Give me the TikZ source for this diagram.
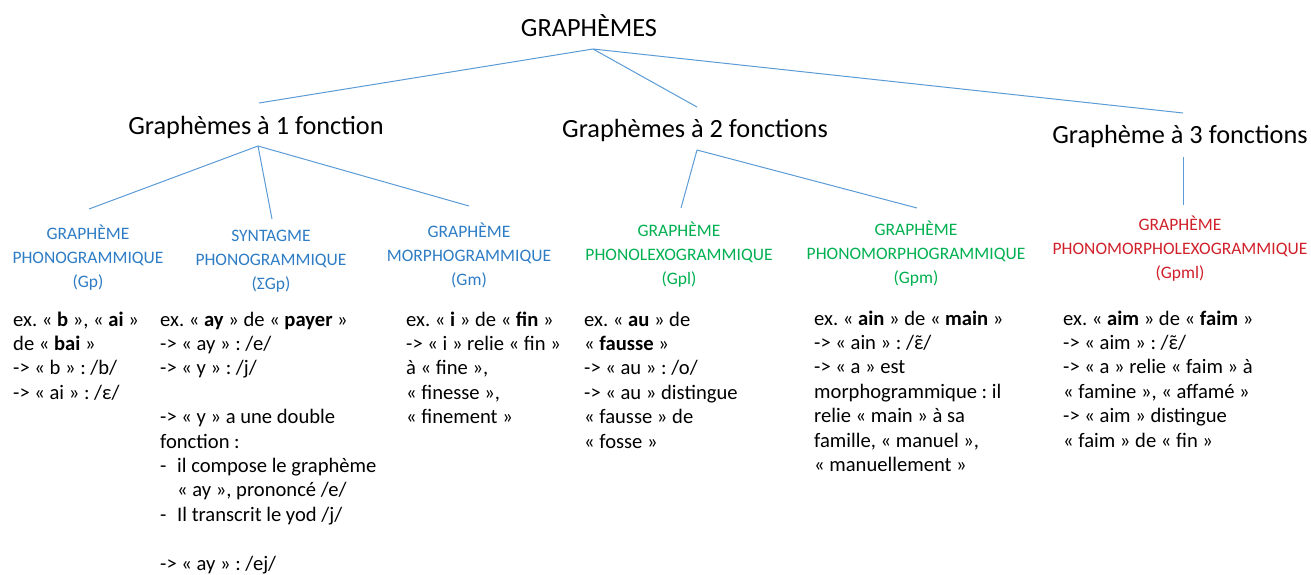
\documentclass[tikz,border=0pt]{standalone}
\usepackage{fontspec}
\setmainfont{Carlito}
\definecolor{conn}{HTML}{5B9BD5}
\definecolor{lblue}{HTML}{2E7CC4}
\definecolor{lgreen}{HTML}{00B050}
\definecolor{lred}{HTML}{D0202A}
\newcommand{\epsnas}{\accent"02DC ε}
\begin{document}
\frenchspacing
\begin{tikzpicture}[x=1pt,y=-1pt,
  title/.style={font=\fontsize{26.3}{30}\selectfont, inner sep=0pt, anchor=base},
  lab/.style={font=\fontsize{17.5}{24}\selectfont, inner sep=0pt, anchor=base},
  body/.style={font=\fontsize{20.6}{24.4}\selectfont, inner sep=0pt, anchor=base west},
  conline/.style={draw=conn, line width=1pt}]
\useasboundingbox (0,0) rectangle (1311,574);

% titles
\node[title] (root) at (589,36) {GRAPHÈMES};
\node[title] (g1) at (256,134) {Graphèmes à 1 fonction};
\node[title] (g2) at (695,137) {Graphèmes à 2 fonctions};
\node[title] (g3) at (1180,143) {Graphème à 3 fonctions};

% category labels
\node[lab, text=lblue] (c1) at (88,239) {\parbox[t]{200pt}{\centering GRAPHÈME\\PHONOGRAMMIQUE\\(Gp)}};
\node[lab, text=lblue] (c2) at (271,241) {\parbox[t]{200pt}{\centering SYNTAGME\\PHONOGRAMMIQUE\\(ΣGp)}};
\node[lab, text=lblue] (c3) at (469,237) {\parbox[t]{200pt}{\centering GRAPHÈME\\MORPHOGRAMMIQUE\\(Gm)}};
\node[lab, text=lgreen] (c4) at (679,236) {\parbox[t]{240pt}{\centering GRAPHÈME\\PHONOLEXOGRAMMIQUE\\(Gpl)}};
\node[lab, text=lgreen] (c5) at (916,235) {\parbox[t]{260pt}{\centering GRAPHÈME\\PHONOMORPHOGRAMMIQUE\\(Gpm)}};
\node[lab, text=lred] (c6) at (1180,230) {\parbox[t]{280pt}{\centering GRAPHÈME\\PHONOMORPHOLEXOGRAMMIQUE\\(Gpml)}};

% body texts
\node[body] (b1) at (13,326) {\parbox[t]{145pt}{\raggedright
ex. « \textbf{b} », « \textbf{ai} »\\
de « \textbf{bai} »\\
-> « b » : /b/\\
-> « ai » : /ε/}};
\node[body] (b2) at (160,326) {\parbox[t]{240pt}{\raggedright
ex. « \textbf{ay} » de « \textbf{payer} »\\
-> « ay » : /e/\\
-> « y » : /j/\\[24.4pt]
-> « y » a une double\\
fonction :\\
\makebox[17pt][l]{-}il compose le graphème\\
\hspace*{17pt}« ay », prononcé /e/\\
\makebox[17pt][l]{-}Il transcrit le yod /j/\\[24.4pt]
-> « ay » : /ej/}};
\node[body] (b3) at (406,326) {\parbox[t]{170pt}{\raggedright
ex. « \textbf{i} » de « \textbf{fin} »\\
-> « i » relie « fin »\\
à « fine »,\\
« finesse »,\\
« finement »}};
\node[body] (b4) at (584,326) {\parbox[t]{200pt}{\raggedright
ex. « \textbf{au} » de\\
« \textbf{fausse} »\\
-> « au » : /o/\\
-> « au » distingue\\
« fausse » de\\
« fosse »}};
\node[body] (b5) at (814,325) {\parbox[t]{220pt}{\raggedright
ex. « \textbf{ain} » de « \textbf{main} »\\
-> « ain » : /\epsnas/\\
-> « a » est\\
morphogrammique : il\\
relie « main » à sa\\
famille, « manuel »,\\
« manuellement »}};
\node[body] (b6) at (1063,325) {\parbox[t]{240pt}{\raggedright
ex. « \textbf{aim} » de « \textbf{faim} »\\
-> « aim » : /\epsnas/\\
-> « a » relie « faim » à\\
« famine », « affamé »\\
-> « aim » distingue\\
« faim » de « fin »}};

% connector end points
\coordinate (root-b) at (593,49);
\coordinate (g1-t) at (259,103);
\coordinate (g2-t) at (697,107);
\coordinate (g3-t) at (1183,113);
\coordinate (g1-b) at (258,146);
\coordinate (g2-b) at (697,150);
\coordinate (g3-b) at (1183,157);
\coordinate (c1-t) at (89,209);
\coordinate (c2-t) at (272,219);
\coordinate (c3-t) at (469,206);
\coordinate (c4-t) at (681,208);
\coordinate (c5-t) at (917,208);
\coordinate (c6-t) at (1183,205);

\draw[conline] (root-b) -- (g1-t);
\draw[conline] (root-b) -- (g2-t);
\draw[conline] (root-b) -- (g3-t);
\draw[conline] (g1-b) -- (c1-t);
\draw[conline] (g1-b) -- (c2-t);
\draw[conline] (g1-b) -- (c3-t);
\draw[conline] (g2-b) -- (c4-t);
\draw[conline] (g2-b) -- (c5-t);
\draw[conline] (g3-b) -- (c6-t);
\end{tikzpicture}
\end{document}
